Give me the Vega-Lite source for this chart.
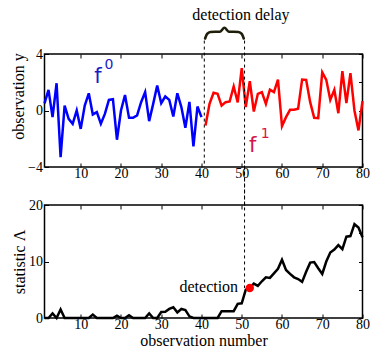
{
  "$schema": "https://vega.github.io/schema/vega-lite/v6.json",
  "padding": {"left": 9.5, "top": 5, "right": 0, "bottom": 0},
  "bounds": "flush",
  "spacing": 38,
  "background": "white",
  "config": {
    "view": {"stroke": "black", "strokeWidth": 1.5},
    "axis": {
      "domain": false, "grid": false, "tickColor": "black", "tickSize": -4, "tickWidth": 1,
      "labelFont": "Liberation Serif", "labelFontSize": 14, "labelColor": "black", "labelPadding": 6, "labelFlush": false,
      "titleFont": "Liberation Serif", "titleFontSize": 16, "titleFontWeight": "normal", "titleColor": "black", "titlePadding": 1
    },
    "axisX": {"labelPadding": 3}
  },
  "datasets": {
    "obs": [
      {"x":1,"y":0.5,"phase":"f0"},{"x":2,"y":1.46,"phase":"f0"},{"x":3,"y":-0.47,"phase":"f0"},{"x":4,"y":1.93,"phase":"f0"},
      {"x":5,"y":-3.3,"phase":"f0"},{"x":6,"y":0.35,"phase":"f0"},{"x":7,"y":-0.59,"phase":"f0"},{"x":8,"y":-0.94,"phase":"f0"},
      {"x":9,"y":0.0,"phase":"f0"},{"x":10,"y":-1.3,"phase":"f0"},{"x":11,"y":0.35,"phase":"f0"},{"x":12,"y":1.22,"phase":"f0"},
      {"x":13,"y":-0.28,"phase":"f0"},{"x":14,"y":-0.12,"phase":"f0"},{"x":15,"y":-0.94,"phase":"f0"},{"x":16,"y":-0.24,"phase":"f0"},
      {"x":17,"y":0.75,"phase":"f0"},{"x":18,"y":0.8,"phase":"f0"},{"x":19,"y":-2.07,"phase":"f0"},{"x":20,"y":0.0,"phase":"f0"},
      {"x":21,"y":1.1,"phase":"f0"},{"x":22,"y":-0.52,"phase":"f0"},{"x":23,"y":-0.52,"phase":"f0"},{"x":24,"y":-0.35,"phase":"f0"},
      {"x":25,"y":0.59,"phase":"f0"},{"x":26,"y":1.3,"phase":"f0"},{"x":27,"y":-0.75,"phase":"f0"},{"x":28,"y":0.47,"phase":"f0"},
      {"x":29,"y":1.77,"phase":"f0"},{"x":30,"y":0.52,"phase":"f0"},{"x":31,"y":0.99,"phase":"f0"},{"x":32,"y":0.75,"phase":"f0"},
      {"x":33,"y":-0.42,"phase":"f0"},{"x":34,"y":1.22,"phase":"f0"},{"x":35,"y":0.24,"phase":"f0"},{"x":36,"y":-1.22,"phase":"f0"},
      {"x":37,"y":0.61,"phase":"f0"},{"x":38,"y":-2.54,"phase":"f0"},{"x":39,"y":0.28,"phase":"f0"},{"x":40,"y":-0.47,"phase":"f0"},
      {"x":41,"y":-1.06,"phase":"f1"},{"x":42,"y":0.47,"phase":"f1"},{"x":43,"y":1.25,"phase":"f1"},{"x":44,"y":1.18,"phase":"f1"},
      {"x":45,"y":0.35,"phase":"f1"},{"x":46,"y":0.59,"phase":"f1"},{"x":47,"y":0.64,"phase":"f1"},{"x":48,"y":1.7,"phase":"f1"},
      {"x":49,"y":0.57,"phase":"f1"},{"x":50,"y":3.0,"phase":"f1"},{"x":51,"y":0.24,"phase":"f1"},{"x":52,"y":2.07,"phase":"f1"},
      {"x":53,"y":-0.07,"phase":"f1"},{"x":54,"y":1.18,"phase":"f1"},{"x":55,"y":1.3,"phase":"f1"},{"x":56,"y":0.47,"phase":"f1"},
      {"x":57,"y":1.48,"phase":"f1"},{"x":58,"y":1.3,"phase":"f1"},{"x":59,"y":2.19,"phase":"f1"},{"x":60,"y":-1.1,"phase":"f1"},
      {"x":61,"y":-0.47,"phase":"f1"},{"x":62,"y":0.05,"phase":"f1"},{"x":63,"y":0.05,"phase":"f1"},{"x":64,"y":0.12,"phase":"f1"},
      {"x":65,"y":2.19,"phase":"f1"},{"x":66,"y":2.17,"phase":"f1"},{"x":67,"y":0.59,"phase":"f1"},{"x":68,"y":-0.52,"phase":"f1"},
      {"x":69,"y":-0.54,"phase":"f1"},{"x":70,"y":2.71,"phase":"f1"},{"x":71,"y":2.17,"phase":"f1"},{"x":72,"y":0.75,"phase":"f1"},
      {"x":73,"y":1.46,"phase":"f1"},{"x":74,"y":-0.19,"phase":"f1"},{"x":75,"y":2.78,"phase":"f1"},{"x":76,"y":0.52,"phase":"f1"},
      {"x":77,"y":2.64,"phase":"f1"},{"x":78,"y":0.0,"phase":"f1"},{"x":79,"y":-1.41,"phase":"f1"},{"x":80,"y":0.66,"phase":"f1"}
    ],
    "stat": [
      {"x":1,"L":0},{"x":2,"L":0},{"x":3,"L":0.8},{"x":4,"L":0},{"x":5,"L":1.5},{"x":6,"L":0},{"x":7,"L":0},{"x":8,"L":0},
      {"x":9,"L":0},{"x":10,"L":0},{"x":11,"L":0},{"x":12,"L":0},{"x":13,"L":0.6},{"x":14,"L":0},{"x":15,"L":0},{"x":16,"L":0},
      {"x":17,"L":0},{"x":18,"L":0},{"x":19,"L":0.4},{"x":20,"L":0},{"x":21,"L":0},{"x":22,"L":0.5},{"x":23,"L":0},{"x":24,"L":0},
      {"x":25,"L":0},{"x":26,"L":0},{"x":27,"L":0.8},{"x":28,"L":0},{"x":29,"L":0},{"x":30,"L":1.05},{"x":31,"L":1.1},{"x":32,"L":1.6},
      {"x":33,"L":1.9},{"x":34,"L":1.0},{"x":35,"L":1.6},{"x":36,"L":1.4},{"x":37,"L":0.3},{"x":38,"L":0},{"x":39,"L":0},{"x":40,"L":0},
      {"x":41,"L":0},{"x":42,"L":0},{"x":43,"L":0},{"x":44,"L":0},{"x":45,"L":1.2},{"x":46,"L":1.2},{"x":47,"L":1.2},{"x":48,"L":1.2},
      {"x":49,"L":2.5},{"x":50,"L":2.6},{"x":51,"L":5.0},{"x":52,"L":5.3},{"x":53,"L":6.1},{"x":54,"L":5.7},{"x":55,"L":6.5},{"x":56,"L":7.2},
      {"x":57,"L":7.1},{"x":58,"L":7.9},{"x":59,"L":8.7},{"x":60,"L":10.3},{"x":61,"L":8.5},{"x":62,"L":7.8},{"x":63,"L":7.2},{"x":64,"L":6.9},
      {"x":65,"L":6.4},{"x":66,"L":8.2},{"x":67,"L":9.8},{"x":68,"L":9.9},{"x":69,"L":8.8},{"x":70,"L":7.8},{"x":71,"L":10.0},{"x":72,"L":11.6},
      {"x":73,"L":12.1},{"x":74,"L":12.9},{"x":75,"L":12.2},{"x":76,"L":14.4},{"x":77,"L":14.5},{"x":78,"L":16.6},{"x":79,"L":16.0},{"x":80,"L":14.3}
    ],
    "brace": [
      {"x":40.9,"y":5.1},{"x":41.4,"y":5.42},{"x":42.2,"y":5.56},{"x":44.6,"y":5.58},{"x":45.7,"y":5.86},
      {"x":46.8,"y":5.58},{"x":49.2,"y":5.56},{"x":50.0,"y":5.42},{"x":50.5,"y":5.1}
    ]
  },
  "vconcat": [
    {
      "width": 318,
      "height": 113,
      "layer": [
        {
          "layer": [
            {
              "data": {"name": "obs"},
              "mark": {"type": "line", "strokeWidth": 2.5},
              "encoding": {
                "x": {"field": "x", "type": "quantitative", "scale": {"domain": [1, 80], "nice": false, "zero": false},
                      "axis": {"values": [10, 20, 30, 40, 50, 60, 70, 80], "title": null}},
                "y": {"field": "y", "type": "quantitative", "scale": {"domain": [-4, 4], "nice": false},
                      "axis": {"values": [-4, -2, 0, 2, 4], "title": "observation y", "titleY": 42}},
                "color": {"field": "phase", "type": "nominal", "scale": {"domain": ["f0", "f1"], "range": ["#0000ff", "#ff0000"]}, "legend": null}
              }
            },
            {
              "data": {"values": [{"x": 40.7, "y": 4.95, "y2": -4}, {"x": 50.7, "y": 4.95, "y2": -7}]},
              "mark": {"type": "rule", "strokeDash": [3, 3], "color": "black", "strokeWidth": 1},
              "encoding": {
                "x": {"field": "x", "type": "quantitative"},
                "y": {"field": "y", "type": "quantitative"},
                "y2": {"field": "y2"}
              }
            },
            {
              "data": {"values": [{"x": 49.8, "y": 6.43, "t": "detection delay"}]},
              "mark": {"type": "text", "font": "Liberation Serif", "fontSize": 16, "color": "black", "align": "center", "baseline": "alphabetic"},
              "encoding": {"x": {"field": "x", "type": "quantitative"}, "y": {"field": "y", "type": "quantitative"}, "text": {"field": "t"}}
            },
            {
              "data": {"name": "brace"},
              "mark": {"type": "line", "interpolate": "monotone", "strokeWidth": 2.6, "color": "#1e1e0a", "strokeCap": "round"},
              "encoding": {"x": {"field": "x", "type": "quantitative"}, "y": {"field": "y", "type": "quantitative"}}
            },
            {
              "data": {"values": [{"x": 14.3, "y": 1.98, "t": "f", "s": 21}, {"x": 17.0, "y": 2.97, "t": "0", "s": 14}]},
              "mark": {"type": "text", "font": "DejaVu Sans", "color": "#1c1cc4", "align": "center", "baseline": "alphabetic"},
              "encoding": {"x": {"field": "x", "type": "quantitative"}, "y": {"field": "y", "type": "quantitative"}, "text": {"field": "t"},
                           "size": {"field": "s", "type": "quantitative", "scale": null}}
            },
            {
              "data": {"values": [{"x": 52.7, "y": -2.97, "t": "f", "s": 21}, {"x": 55.8, "y": -1.98, "t": "1", "s": 14}]},
              "mark": {"type": "text", "font": "DejaVu Sans", "color": "#d6154a", "align": "center", "baseline": "alphabetic"},
              "encoding": {"x": {"field": "x", "type": "quantitative"}, "y": {"field": "y", "type": "quantitative"}, "text": {"field": "t"},
                           "size": {"field": "s", "type": "quantitative", "scale": null}}
            }
          ]
        },
        {
          "data": {"name": "obs"},
          "mark": {"type": "point", "opacity": 0},
          "encoding": {
            "x": {"field": "x", "type": "quantitative", "axis": {"orient": "top", "labels": false, "title": null, "values": [10, 20, 30, 40, 50, 60, 70, 80]}},
            "y": {"field": "y", "type": "quantitative", "axis": {"orient": "right", "labels": false, "title": null, "values": [-4, -2, 0, 2, 4]}}
          }
        }
      ],
      "resolve": {"axis": {"x": "independent", "y": "independent"}}
    },
    {
      "width": 318,
      "height": 113,
      "layer": [
        {
          "layer": [
            {
              "data": {"name": "stat"},
              "mark": {"type": "line", "strokeWidth": 2.5, "color": "black"},
              "encoding": {
                "x": {"field": "x", "type": "quantitative", "scale": {"domain": [1, 80], "nice": false, "zero": false},
                      "axis": {"values": [10, 20, 30, 40, 50, 60, 70, 80], "title": "observation number"}},
                "y": {"field": "L", "type": "quantitative", "scale": {"domain": [0, 20], "nice": false},
                      "axis": {"values": [0, 5, 10, 15, 20], "title": "statistic Λ"}}
              }
            },
            {
              "data": {"values": [{"x": 50.7, "L": 27, "L2": 5.3}]},
              "mark": {"type": "rule", "strokeDash": [3, 3], "color": "black", "strokeWidth": 1},
              "encoding": {
                "x": {"field": "x", "type": "quantitative"},
                "y": {"field": "L", "type": "quantitative"},
                "y2": {"field": "L2"}
              }
            },
            {
              "data": {"values": [{"x": 52, "L": 5.3}]},
              "mark": {"type": "point", "filled": true, "color": "#ff0000", "size": 70, "opacity": 1},
              "encoding": {"x": {"field": "x", "type": "quantitative"}, "y": {"field": "L", "type": "quantitative"}}
            },
            {
              "data": {"values": [{"x": 49.1, "L": 4.65, "t": "detection"}]},
              "mark": {"type": "text", "font": "Liberation Serif", "fontSize": 16, "color": "black", "align": "right", "baseline": "alphabetic"},
              "encoding": {"x": {"field": "x", "type": "quantitative"}, "y": {"field": "L", "type": "quantitative"}, "text": {"field": "t"}}
            }
          ]
        },
        {
          "data": {"name": "stat"},
          "mark": {"type": "point", "opacity": 0},
          "encoding": {
            "x": {"field": "x", "type": "quantitative", "axis": {"orient": "top", "labels": false, "title": null, "values": [10, 20, 30, 40, 50, 60, 70, 80]}},
            "y": {"field": "L", "type": "quantitative", "axis": {"orient": "right", "labels": false, "title": null, "values": [0, 5, 10, 15, 20]}}
          }
        }
      ],
      "resolve": {"axis": {"x": "independent", "y": "independent"}}
    }
  ]
}
